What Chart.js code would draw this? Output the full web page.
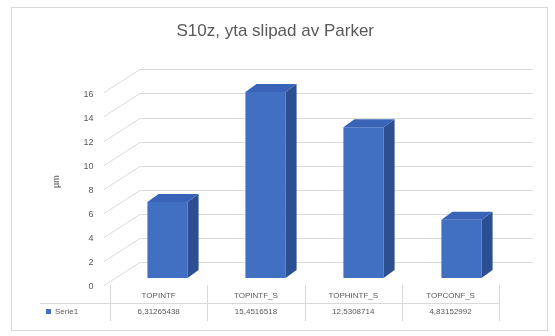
<!DOCTYPE html>
<html>
<head>
<meta charset="utf-8">
<script src="https://cdn.jsdelivr.net/npm/chart.js@4.4.1/dist/chart.umd.min.js"></script>
<style>
  html, body { margin: 0; padding: 0; background: #fff; }
  #wrap { width: 555px; height: 336px; }
</style>
</head>
<body>
<div id="wrap"><canvas id="myChart"></canvas></div>
<script>
// serie data
const categories = ["TOPINTF", "TOPINTF_S", "TOPHINTF_S", "TOPCONF_S"];
const serie1 = [6.31265438, 15.4516518, 12.5308714, 4.83152992];
const yTicks = [0, 2, 4, 6, 8, 10, 12, 14, 16];

const BLUE = "#4170c3";
const BLUE_SIDE = "#2c4f92";
const BLUE_TOP = "#3863b6";
const GRID = "#d9d9d9";
const TEXT = "#595959";
const DEPTH_X = 11, DEPTH_Y = -8;

// back wall + side gridlines, chart frame
const wallPlugin = {
  id: "wall",
  beforeDraw(chart) {
    const ctx = chart.ctx;
    ctx.save();
    ctx.strokeStyle = GRID;
    ctx.lineWidth = 1;
    ctx.strokeRect(11.5, 7.5, 536, 323);
    ctx.restore();
  },
  beforeDatasetsDraw(chart) {
    const ctx = chart.ctx;
    const y = chart.scales.y;
    const backLeft = 140, backRight = 533;
    ctx.save();
    ctx.strokeStyle = GRID;
    ctx.lineWidth = 1;
    yTicks.forEach(v => {
      const py = Math.round(y.getPixelForValue(v)) + 0.5;
      ctx.beginPath();
      ctx.moveTo(104, py + 7);
      ctx.lineTo(backLeft, py - 16);
      ctx.lineTo(backRight, py - 16);
      ctx.stroke();
    });
    ctx.restore();
  },
  afterDatasetsDraw(chart) {
    // side and top faces of each column
    const ctx = chart.ctx;
    const meta = chart.getDatasetMeta(0);
    ctx.save();
    meta.data.forEach(bar => {
      const p = bar.getProps(["x", "y", "base", "width"], true);
      const l = p.x - p.width / 2, r = p.x + p.width / 2;
      ctx.fillStyle = BLUE_SIDE;
      ctx.beginPath();
      ctx.moveTo(r, p.y);
      ctx.lineTo(r + DEPTH_X, p.y + DEPTH_Y);
      ctx.lineTo(r + DEPTH_X, p.base + DEPTH_Y);
      ctx.lineTo(r, p.base);
      ctx.closePath();
      ctx.fill();
      ctx.fillStyle = BLUE_TOP;
      ctx.beginPath();
      ctx.moveTo(l, p.y);
      ctx.lineTo(l + DEPTH_X, p.y + DEPTH_Y);
      ctx.lineTo(r + DEPTH_X, p.y + DEPTH_Y);
      ctx.lineTo(r, p.y);
      ctx.closePath();
      ctx.fill();
    });
    ctx.restore();
  },
  afterDraw(chart) {
    // data table under the plot
    const ctx = chart.ctx;
    const colLeft = 110, colW = 97.3;
    const row1 = 296, row2 = 312;
    ctx.save();
    ctx.strokeStyle = GRID;
    ctx.lineWidth = 1;
    ctx.beginPath();
    for (let i = 0; i <= categories.length; i++) {
      const x = Math.round(colLeft + i * colW) + 0.5;
      ctx.moveTo(x, 285);
      ctx.lineTo(x, 321);
    }
    ctx.moveTo(40, 303.5);
    ctx.lineTo(colLeft + categories.length * colW, 303.5);
    ctx.stroke();

    ctx.fillStyle = TEXT;
    ctx.font = "8px 'Liberation Sans', sans-serif";
    ctx.textAlign = "center";
    ctx.textBaseline = "middle";
    categories.forEach((c, i) => {
      const cx = colLeft + (i + 0.5) * colW;
      ctx.fillText(c, cx, row1);
      ctx.fillText(serie1[i].toFixed(8).replace(/0+$/, "").replace(".", ","), cx, row2);
    });
    ctx.fillStyle = BLUE;
    ctx.fillRect(46, row2 - 3, 5, 5);
    ctx.fillStyle = TEXT;
    ctx.textAlign = "left";
    ctx.fillText("Serie1", 55, row2);
    ctx.restore();
  }
};

new Chart("myChart", {
  type: "bar",
  data: {
    labels: categories,
    datasets: [{
      label: "Serie1",
      data: serie1,
      backgroundColor: BLUE,
      borderWidth: 0,
      barPercentage: 0.41,
      categoryPercentage: 1
    }]
  },
  options: {
    responsive: true,
    maintainAspectRatio: false,
    animation: false,
    layout: { padding: { top: 7, left: 40, right: 44.5, bottom: 58 } },
    plugins: {
      legend: { display: false },
      tooltip: { enabled: false },
      title: {
        display: true,
        text: "S10z, yta slipad av Parker",
        color: TEXT,
        font: { family: "'Liberation Sans', sans-serif", size: 17, weight: "normal" },
        padding: { top: 13.8, bottom: 44.2 }
      }
    },
    scales: {
      x: { display: false },
      y: {
        min: 0,
        max: 16,
        afterFit: s => { s.width = 78.5; },
        ticks: {
          stepSize: 2,
          padding: 25,
          labelOffset: 9,
          color: TEXT,
          font: { family: "'Liberation Sans', sans-serif", size: 9 }
        },
        grid: { display: false, drawTicks: false },
        border: { display: false },
        title: {
          display: true,
          text: "µm",
          color: TEXT,
          padding: { top: 11 },
          font: { family: "'Liberation Sans', sans-serif", size: 9 }
        }
      }
    }
  },
  plugins: [wallPlugin]
});
</script>
</body>
</html>
